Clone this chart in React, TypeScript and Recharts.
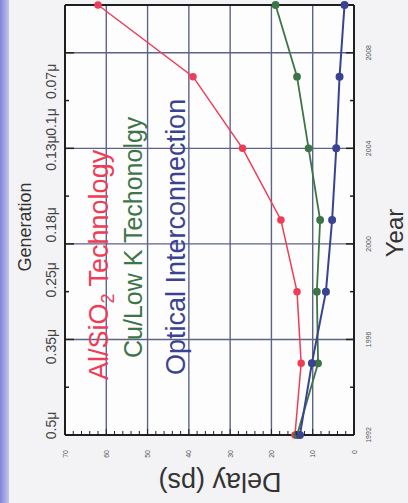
import { LineChart, Line, XAxis, YAxis, CartesianGrid, Legend, Label } from 'recharts';

// chart is laid out in its natural orientation (503 x 408) and turned 90deg CCW
const years = [1992, 1995, 1998, 2001, 2004, 2007, 2010];
const alSiO2 = [14.3, 12.8, 13.8, 17.7, 27, 39, 62];
const cuLowK = [13.8, 8.7, 9.0, 8.2, 11, 13.8, 19];
const optical = [13.1, 10.2, 6.8, 5.3, 4.3, 3.5, 2.3];

const yearTicks = [1992, 1994, 1996, 1998, 2000, 2002, 2004, 2006, 2008];
const yearLabels = [1992, 1996, 2000, 2004, 2008];
const delayTicks = [0, 2, 4, 6, 8, 10, 12, 14, 16, 18, 20, 22, 24, 26, 28, 30, 32, 34, 36, 38, 40, 42, 44, 46, 48, 50, 52, 54, 56, 58, 60, 62, 64, 66, 68, 70];
const delayLabels = [0, 10, 20, 30, 40, 50, 60, 70];
const generationAt = [1992.4, 1995.7, 1998.5, 2000.8, 2003.8, 2005.1, 2006.8];
const generationLabels = ['0.5μ', '0.35μ', '0.25μ', '0.18μ', '0.13μ', '0.1μ', '0.07μ'];

const data = years.map((year, i) => ({
  year,
  al: alSiO2[i],
  cu: cuLowK[i],
  optical: optical[i],
}));

const FONT = '"Liberation Sans", Arial, sans-serif';
const FRAME = '#1f1f1f';
const GRID = '#5d6389';
const RED = '#ef3d58';
const GREEN = '#3d7548';
const BLUE = '#3a4392';

// plot box edges, follow from the axis sizes below
const TOP_H = 65;
const BOTTOM_H = 54;
const LEFT_W = 68;
const H = 408;
const PLOT_BOTTOM = H - BOTTOM_H;

function YearTick(props: any) {
  const { x, payload } = props;
  const major = yearLabels.includes(payload.value);
  return (
    <g>
      <line x1={x} x2={x} y1={PLOT_BOTTOM} y2={PLOT_BOTTOM - (major ? 8 : 4)} stroke={FRAME} strokeWidth={1.5} />
      {major && (
        <text x={x} y={PLOT_BOTTOM + 17} textAnchor="middle" fontSize={7} fill="#555" fontFamily={FONT}>
          {payload.value}
        </text>
      )}
    </g>
  );
}

function GenerationTick(props: any) {
  const { x, payload } = props;
  const gi = generationAt.indexOf(payload.value);
  if (gi >= 0) {
    return (
      <text x={x} y={TOP_H - 9} textAnchor="middle" fontSize={14} fill="#444" fontFamily={FONT}>
        {generationLabels[gi]}
      </text>
    );
  }
  const major = yearLabels.includes(payload.value);
  return <line x1={x} x2={x} y1={TOP_H} y2={TOP_H + (major ? 9 : 4)} stroke={FRAME} strokeWidth={1.5} />;
}

function DelayTick(props: any) {
  const { y, payload } = props;
  const major = delayLabels.includes(payload.value);
  return (
    <g>
      <line x1={LEFT_W} x2={LEFT_W + (major ? 6 : 4)} y1={y} y2={y} stroke={FRAME} strokeWidth={1} />
      {major && (
        <text x={LEFT_W - 15} y={y + 2.5} textAnchor="end" fontSize={7} fill="#555" fontFamily={FONT}>
          {payload.value}
        </text>
      )}
    </g>
  );
}

function SeriesLegend() {
  return (
    <svg width={280} height={115} style={{ overflow: 'visible' }}>
      <text x={5} y={28} fontSize={27} fill={RED} fontFamily={FONT}>
        <tspan>Al/SiO</tspan>
        <tspan fontSize={18} dy={6}>2</tspan>
        <tspan dy={-6}> Technology</tspan>
      </text>
      <text x={27} y={62} fontSize={25} fill={GREEN} fontFamily={FONT}>
        Cu/Low K Techonolgy
      </text>
      <text x={10} y={105} fontSize={27} fill={BLUE} fontFamily={FONT}>
        Optical Interconnection
      </text>
    </svg>
  );
}

export default function App() {
  return (
    <div style={{ position: 'fixed', left: 0, top: 0, width: 408, height: 503, overflow: 'hidden', background: '#f3f3f5' }}>
      <div style={{ position: 'absolute', left: 0, top: 0, width: 9, height: 503, background: 'linear-gradient(to right, #7f84d8, #c3c5ee)' }} />
      <div style={{ position: 'absolute', left: 0, top: 0, width: 503, height: 408, transformOrigin: '0 0', transform: 'translateY(503px) rotate(-90deg)' }}>
        <LineChart width={503} height={H} data={data} margin={{ top: 0, right: 0, bottom: 0, left: 0 }}>
          <CartesianGrid
            xAxisId="bottom"
            yAxisId="left"
            fill="#fdfdfd"
            stroke={GRID}
            strokeWidth={1.4}
            horizontalValues={[10, 20, 30, 40, 50, 60]}
            verticalValues={[1996, 2000, 2004, 2008]}
          />
          <XAxis
            xAxisId="bottom"
            dataKey="year"
            type="number"
            domain={[1992, 2010]}
            ticks={yearTicks}
            interval={0}
            height={BOTTOM_H}
            tickLine={false}
            tick={<YearTick />}
            axisLine={{ stroke: FRAME, strokeWidth: 2 }}
          >
            <Label
              content={(p: any) => (
                <text x={p.viewBox.x + 202} y={p.viewBox.y + 49} textAnchor="middle" fontSize={24} fill="#333" fontFamily={FONT}>
                  Year
                </text>
              )}
            />
          </XAxis>
          <XAxis
            xAxisId="top"
            orientation="top"
            dataKey="year"
            type="number"
            domain={[1992, 2010]}
            ticks={[...yearTicks, ...generationAt].sort((a, b) => a - b)}
            interval={0}
            allowDecimals
            height={TOP_H}
            tickLine={false}
            tick={<GenerationTick />}
            axisLine={{ stroke: FRAME, strokeWidth: 2 }}
          >
            <Label
              content={(p: any) => (
                <text x={p.viewBox.x + 208} y={p.viewBox.y + 31} textAnchor="middle" fontSize={18} fill="#333" fontFamily={FONT}>
                  Generation
                </text>
              )}
            />
          </XAxis>
          <YAxis
            yAxisId="left"
            type="number"
            domain={[0, 70]}
            ticks={delayTicks}
            interval={0}
            width={LEFT_W}
            tickLine={false}
            tick={<DelayTick />}
            axisLine={{ stroke: FRAME, strokeWidth: 2 }}
          >
            <Label
              content={(p: any) => {
                const cx = p.viewBox.x + 30;
                const cy = 220;
                return (
                  <text x={cx} y={cy} transform={`rotate(-90, ${cx}, ${cy})`} textAnchor="middle" fontSize={27} fill="#333" fontFamily={FONT}>
                    Delay (ps)
                  </text>
                );
              }}
            />
          </YAxis>
          <YAxis
            yAxisId="right"
            orientation="right"
            type="number"
            domain={[0, 70]}
            width={5}
            tick={false}
            tickLine={false}
            axisLine={{ stroke: FRAME, strokeWidth: 2 }}
          />
          <Legend
            layout="vertical"
            align="center"
            verticalAlign="middle"
            wrapperStyle={{ left: 118, top: 80, width: 280, height: 115 }}
            content={<SeriesLegend />}
          />
          <Line xAxisId="bottom" yAxisId="left" dataKey="al" stroke={RED} strokeWidth={1.5} dot={{ r: 3, fill: RED, stroke: RED }} isAnimationActive={false} />
          <Line xAxisId="bottom" yAxisId="left" dataKey="cu" stroke={GREEN} strokeWidth={1.8} dot={{ r: 3, fill: GREEN, stroke: GREEN }} isAnimationActive={false} />
          <Line xAxisId="bottom" yAxisId="left" dataKey="optical" stroke={BLUE} strokeWidth={2} dot={{ r: 3, fill: BLUE, stroke: BLUE }} isAnimationActive={false} />
        </LineChart>
      </div>
    </div>
  );
}
